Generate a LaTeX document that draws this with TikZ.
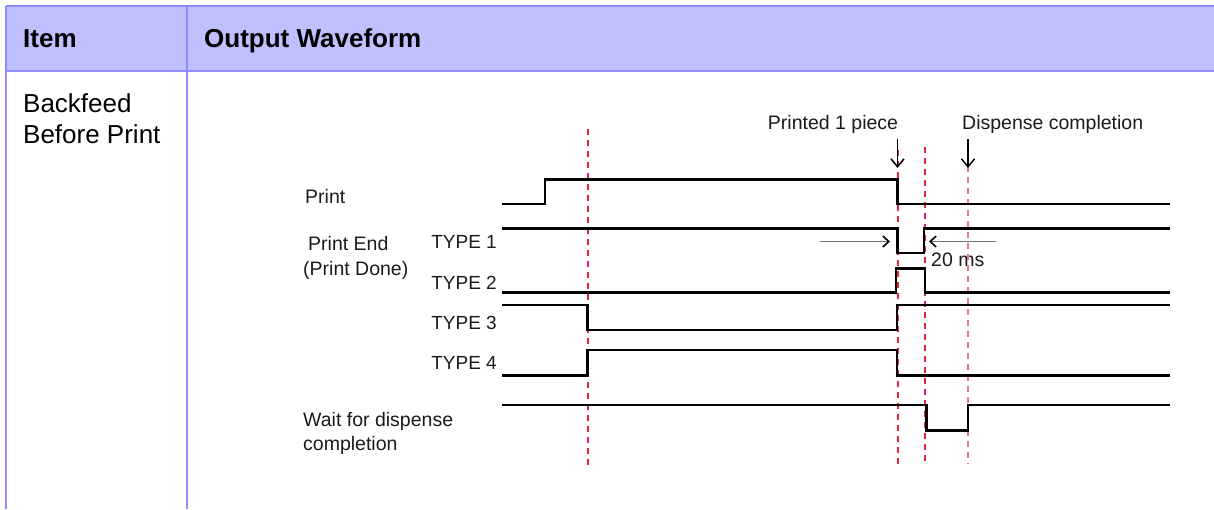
\documentclass[tikz,border=0pt]{standalone}
\usepackage{fontspec}
\setmainfont{Liberation Sans}
\usetikzlibrary{arrows.meta}
\definecolor{hdrfill}{HTML}{C0C0FF}
\definecolor{hdrline}{HTML}{8C8CFF}
\definecolor{sigred}{HTML}{E8233A}
\definecolor{txt}{HTML}{1A1A1A}
\tikzset{
  hdrtext/.style={anchor=base west, inner sep=0pt, font=\fontsize{26}{31}\selectfont\bfseries},
  celltext/.style={anchor=base west, inner sep=0pt, font=\fontsize{26}{31}\selectfont},
  lbl/.style={anchor=base west, inner sep=0pt, text=txt, font=\fontsize{19.5}{23}\selectfont},
  typelbl/.style={anchor=base east, inner sep=0pt, text=txt, font=\fontsize{19}{23}\selectfont},
  sig/.style={line width=2.3pt, black, line join=miter},
  marker/.style={line width=2pt, sigred, dash pattern=on 6pt off 5pt},
  markerlight/.style={line width=2.6pt, sigred!65, dash pattern=on 6pt off 5pt},
  gridline/.style={line width=2pt, hdrline},
  downarrow/.style={line width=1.5pt, -{Straight Barb[length=8pt,width=13pt,line width=1.5pt]}},
  gaparrow/.style={line width=1.5pt, black!55, -{Straight Barb[length=6pt,width=11pt,line width=1.6pt,color=black]}},
}
\begin{document}
\begin{tikzpicture}[x=1pt,y=-1pt]
\useasboundingbox (0,0) rectangle (1214,509);
% table
\fill[hdrfill] (5.7,6) rectangle (1214,71);
\draw[gridline] (5.7,6) -- (1214,6);
\draw[gridline] (5.7,71) -- (1214,71);
\draw[gridline] (5.7,6) -- (5.7,509);
\draw[gridline] (186.7,6) -- (186.7,509);
\node[hdrtext] (hItem) at (23,47) {Item};
\node[hdrtext] (hWave) at (204,47) {Output Waveform};
\node[celltext] (c1) at (23,112) {Backfeed};
\node[celltext] (c2) at (23,143) {Before Print};
% labels
\node[lbl] (lPrint) at (305,203) {Print};
\node[lbl] (lEnd) at (308,250) {Print End};
\node[lbl] (lDone) at (303,275) {(Print Done)};
\node[typelbl] (t1) at (497,248) {TYPE 1};
\node[typelbl] (t2) at (497,289) {TYPE 2};
\node[typelbl] (t3) at (497,329) {TYPE 3};
\node[typelbl] (t4) at (497,369) {TYPE 4};
\node[lbl] (lWait) at (303,426) {Wait for dispense};
\node[lbl] (lComp) at (303,450) {completion};
\node[lbl, anchor=base] (lPiece) at (833,129) {Printed 1 piece};
\node[lbl] (lDisp) at (962,129) {Dispense completion};
\node[lbl] (l20) at (931,266) {20 ms};
% markers
\draw[marker] (588,129) -- (588,466);
\draw[marker] (897.5,150) -- (897.5,464);
\draw[marker] (925,147) -- (925,464);
\draw[markerlight] (968,166) -- (968,464);
% down arrows
\coordinate (a1s) at (897.5,139);
\coordinate (a1e) at (897.5,168);
\coordinate (a2s) at (968,139);
\coordinate (a2e) at (968,168);
\draw[downarrow] (a1s) -- (a1e);
\draw[downarrow] (a2s) -- (a2e);
% signals
\draw[sig] (502,204) -- (545,204) -- (545,179.5) -- (897.5,179.5) -- (897.5,204) -- (1170,204);
\draw[sig] (502,228.5) -- (897.5,228.5) -- (897.5,253) -- (924,253) -- (924,228.5) -- (1170,228.5);
\draw[sig] (502,292.5) -- (896,292.5) -- (896,268.5) -- (925,268.5) -- (925,292.5) -- (1170,292.5);
\draw[sig] (502,305) -- (587.5,305) -- (587.5,330) -- (897,330) -- (897,305) -- (1170,305);
\draw[sig] (502,375.5) -- (587.5,375.5) -- (587.5,350) -- (897,350) -- (897,375.5) -- (1170,375.5);
\draw[sig] (502,405) -- (926.5,405) -- (926.5,430.5) -- (968,430.5) -- (968,405) -- (1170,405);
% 20 ms arrows
\coordinate (g1s) at (820,241.5);
\coordinate (g1e) at (890,241.5);
\coordinate (g2s) at (996,241.5);
\coordinate (g2e) at (929,241.5);
\draw[gaparrow] (g1s) -- (g1e);
\draw[gaparrow] (g2s) -- (g2e);
\end{tikzpicture}
\end{document}
